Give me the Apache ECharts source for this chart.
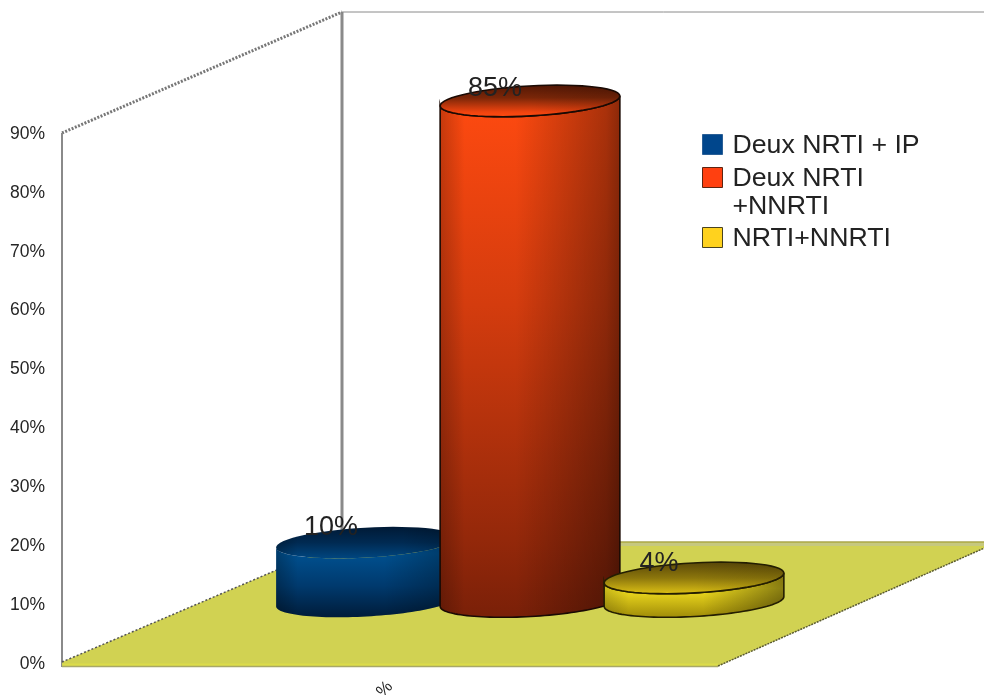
<!DOCTYPE html>
<html>
<head>
<meta charset="utf-8">
<style>html,body{margin:0;padding:0;background:#fff}#chart{width:984px;height:695px}</style>
<script src="https://cdn.jsdelivr.net/npm/echarts@6/dist/echarts.min.js"></script>
</head>
<body>
<div id="chart"></div>
<script>
// Values and labels
const categories = ['%'];
const seriesNames = ['Deux NRTI + IP', 'Deux NRTI\n+NNRTI', 'NRTI+NNRTI'];
const seriesValues = [10, 85, 4];
const legendColors = ['#00468c', '#ff4010', '#ffd21e'];
const legendBorders = ['#2a5f96', '#5c2412', '#4a4420'];

// Projection of the floor depth and cylinder proportions, in pixels
const DEPTH_X = 280, DEPTH_Y = -123;
const FLOOR_DEPTH_Y = -121;
const SPACING = 164, RX = 90, RY = 15, TILT = 3.2 * Math.PI / 180;

// Shading for each cylinder: wall (vertical), wall darkening (horizontal), top cap, cap darkening
const shades = [
  { wall: [[0,'#004a88'],[0.2,'#00508f'],[0.6,'#003a6e'],[1,'#001c3a']],
    edge: [[0,0.25],[0.12,0],[0.6,0],[1,0.3]],
    cap: [[0,'#001a36'],[0.5,'#002a52'],[1,'#004680']],
    capEdge: [[0,0.25],[0.12,0],[0.7,0],[1,0.2]], stroke: null, labelLift: 15.5 },
  { wall: [[0,'#ff4a10'],[0.4,'#d43c0e'],[0.85,'#94280a'],[1,'#7a2008']],
    edge: [[0,0.22],[0.14,0],[0.42,0],[0.92,0.33],[1,0.45]],
    cap: [[0,'#541805'],[0.4,'#7a2608'],[0.85,'#f0440f'],[1,'#ff4a10']],
    capEdge: [[0,0],[0.5,0],[1,0.15]], stroke: '#1a0a04', labelLift: 12.5 },
  { wall: [[0,'#e8d018'],[0.35,'#f4e020'],[1,'#a08c08']],
    edge: [[0,0.18],[0.14,0],[0.55,0],[1,0.45]],
    cap: [[0,'#5a4808'],[0.5,'#8c760c'],[1,'#dcc014']],
    capEdge: [[0,0],[0.5,0],[1,0.1]], stroke: '#241e02', labelLift: 14 }
];

function stops(list) { return list.map(s => ({ offset: s[0], color: s[1] })); }
function darkStops(list) { return list.map(s => ({ offset: s[0], color: 'rgba(0,0,0,' + s[1] + ')' })); }

// Point on a slightly tilted ellipse; t=0 is the right end, t=PI the left end
function ellipsePoint(cx, cy, t) {
  const c = Math.cos(t), s = Math.sin(t);
  return [cx + RX * c * Math.cos(TILT) + RY * s * Math.sin(TILT),
          cy - RX * c * Math.sin(TILT) + RY * s * Math.cos(TILT)];
}
function arc(cx, cy, from, to) {
  const pts = [], n = 60;
  for (let i = 0; i <= n; i++) pts.push(ellipsePoint(cx, cy, from + (to - from) * i / n));
  return pts;
}

// Walls and floor, derived from the grid rectangle
function renderFrame(params, api) {
  const g = params.coordSys;
  const x0 = g.x, x1 = g.x + g.width, top = g.y, base = g.y + g.height;
  const bx0 = x0 + DEPTH_X, bx1 = x1 + DEPTH_X, bBase = base + FLOOR_DEPTH_Y, bTop = top + FLOOR_DEPTH_Y;
  const line = (a, b, style) => ({ type: 'line', silent: true,
    shape: { x1: a[0], y1: a[1], x2: b[0], y2: b[1] }, style: Object.assign({ fill: null }, style) });
  return { type: 'group', children: [
    line([bx0, bTop], [bx0, bBase], { stroke: '#8a8a8a', lineWidth: 3 }),
    line([bx0, bTop], [bx1, bTop], { stroke: '#8a8a8a', lineWidth: 1 }),
    line([x0, top], [bx0, bTop], { stroke: '#777', lineWidth: 3, lineDash: [2, 1.5] }),
    line([x0, top], [x0, base + 4], { stroke: '#8a8a8a', lineWidth: 2 }),
    { type: 'polygon', silent: true,
      shape: { points: [[x0, base - 1], [bx0, bBase], [bx1, bBase], [x1, base + 3], [x0, base + 3]] },
      style: { fill: '#d1d252' } },
    { type: 'rect', silent: true, shape: { x: x0 + 1, y: base + 0.5, width: g.width - 1, height: 2.5 }, style: { fill: '#dcdc4a' } },
    line([x0, base + 3.5], [x1, base + 3.5], { stroke: '#a8a868', lineWidth: 1.5 }),
    line([bx0, bBase + 2.5], [bx1, bBase + 2.5], { stroke: '#c6c87e', lineWidth: 3 }),
    line([bx0, bBase], [bx1, bBase], { stroke: '#a8a64e', lineWidth: 1.5 }),
    line([x0, base - 1], [bx0, bBase], { stroke: '#555', lineWidth: 1.5, lineDash: [2, 2] }),
    line([x1, base + 3], [bx1, bBase], { stroke: '#5a5a30', lineWidth: 1.5, lineDash: [2, 1] })
  ] };
}

// One cylinder per series, stepped along the category band at mid depth
function renderCylinder(params, api) {
  const idx = params.seriesIndex - 1;
  const value = api.value(1);
  const base = api.coord([api.value(0), 0]);
  const head = api.coord([api.value(0), value]);
  const cx = base[0] + DEPTH_X / 2 + (idx - 1) * SPACING;
  const by = base[1] + DEPTH_Y / 2;
  const ty = head[1] + DEPTH_Y / 2;
  const shade = shades[idx];
  const wall = arc(cx, ty, 0, Math.PI).concat(arc(cx, by, Math.PI, 0));
  const cap = arc(cx, ty, 0, Math.PI * 2);
  const stroke = shade.stroke;
  return { type: 'group', children: [
    { type: 'polygon', silent: true, shape: { points: wall },
      style: { fill: { type: 'linear', x: 0, y: 0, x2: 0, y2: 1, colorStops: stops(shade.wall) } } },
    { type: 'polygon', silent: true, shape: { points: wall },
      style: { fill: { type: 'linear', x: 0, y: 0, x2: 1, y2: 0, colorStops: darkStops(shade.edge) },
               stroke: stroke, lineWidth: 1.6 } },
    { type: 'polygon', silent: true, shape: { points: cap },
      style: { fill: { type: 'linear', x: 0.5, y: 0, x2: 0.5, y2: 1, colorStops: stops(shade.cap) } } },
    { type: 'polygon', silent: true, shape: { points: cap },
      style: { fill: { type: 'linear', x: 0, y: 0, x2: 1, y2: 0, colorStops: darkStops(shade.capEdge) },
               stroke: stroke, lineWidth: 1.6 } },
    { type: 'text', silent: true,
      style: { text: value + '%', x: cx - 35, y: ty - shade.labelLift, align: 'center', verticalAlign: 'middle',
               fontFamily: 'Liberation Sans', fontSize: 27, fill: '#222' } }
  ] };
}

// The two-line entry carries a blank leading line so its swatch centres on the first line of text
const legendTops = [130, 135, 223];
const legends = seriesNames.map((name, i) => ({
  left: 702, top: legendTops[i], orient: 'vertical', padding: 0,
  itemWidth: 20, itemHeight: 20, itemGap: 0, selectedMode: false,
  textStyle: {
    padding: [0, 0, 0, 5],
    rich: { t: { fontFamily: 'Liberation Sans', fontSize: 26.7, lineHeight: 28, color: '#222', padding: [2, 0, 0, 0] } }
  },
  formatter: n => {
    const lines = n.split('\n').map(s => '{t|' + s + '}');
    return (lines.length > 1 ? ['{t| }'].concat(lines) : lines).join('\n');
  },
  data: [{ name: name, icon: 'rect',
           itemStyle: { color: legendColors[i], borderColor: legendBorders[i], borderWidth: 1 } }]
}));

const chart = echarts.init(document.getElementById('chart'), null, { renderer: 'canvas' });
chart.setOption({
  animation: false,
  backgroundColor: '#fff',
  legend: legends,
  tooltip: { show: false },
  grid: { left: 62, top: 133, width: 656, height: 530, containLabel: false, outerBoundsMode: 'none' },
  xAxis: {
    type: 'category', data: categories, boundaryGap: true,
    axisLine: { show: false }, axisTick: { show: false }, splitLine: { show: false },
    axisLabel: { rotate: 45, margin: 21, fontFamily: 'Liberation Sans', fontSize: 17, color: '#262626' }
  },
  yAxis: {
    type: 'value', min: 0, max: 90, interval: 10,
    axisLine: { show: false }, axisTick: { show: false }, splitLine: { show: false },
    axisLabel: {
      formatter: '{l|{value}%}', margin: 17,
      rich: { l: { fontFamily: 'Liberation Sans', fontSize: 17.5, color: '#262626', padding: [2, 0, 0, 0] } }
    }
  },
  series: [
    { type: 'custom', name: 'frame', renderItem: renderFrame, data: [[0, 0]], silent: true, z: 1,
      encode: { x: 0, y: 1 }, clip: false }
  ].concat(seriesNames.map((name, i) => ({
    type: 'custom', name: name, renderItem: renderCylinder, z: 2 + i, silent: true,
    data: [[0, seriesValues[i]]], encode: { x: 0, y: 1 }, clip: false,
    itemStyle: { color: legendColors[i] }
  })))
});
</script>
</body>
</html>
